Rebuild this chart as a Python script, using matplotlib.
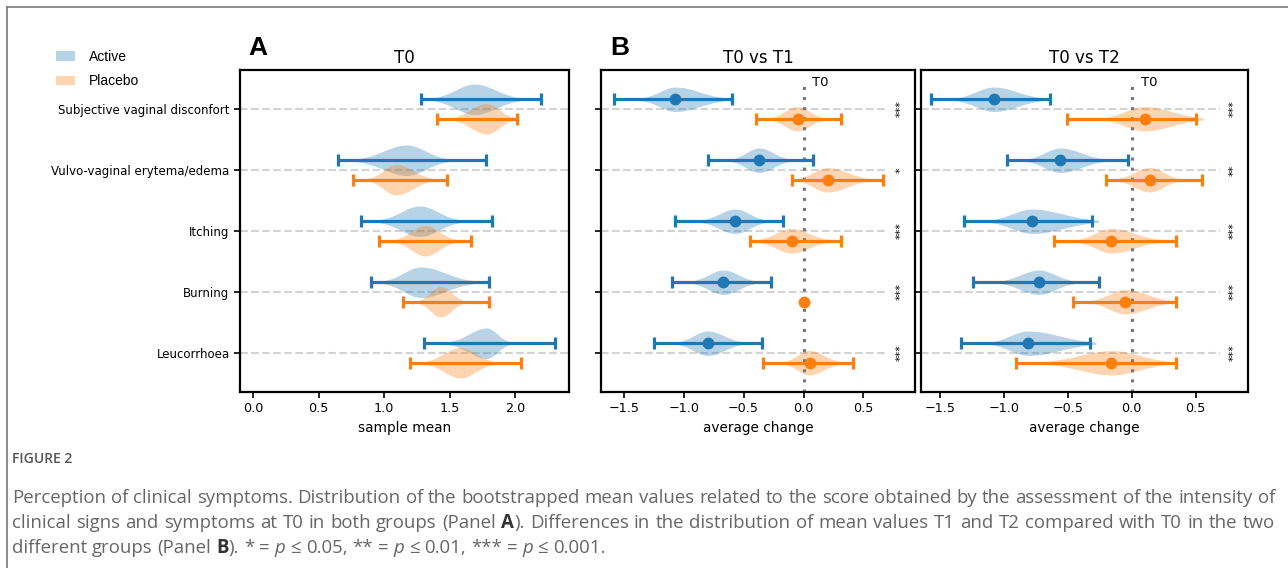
import re
import numpy as np
import matplotlib
matplotlib.use("Agg")
import matplotlib.pyplot as plt
import matplotlib.transforms as mtransforms
from matplotlib.patches import Patch
from matplotlib.lines import Line2D

categories = ["Subjective vaginal disconfort", "Vulvo-vaginal erytema/edema", "Itching", "Burning", "Leucorrhoea"]

# Panel A - T0 sample mean (interval ends and violin shape: peak, visible extent)
t0ActiveLo = [1.28, 0.65, 0.82, 0.90, 1.30]
t0ActiveHi = [2.20, 1.78, 1.82, 1.80, 2.30]
t0PlaceboLo = [1.40, 0.76, 0.96, 1.14, 1.20]
t0PlaceboHi = [2.01, 1.48, 1.66, 1.80, 2.04]
t0ActivePeak = [1.69, 1.17, 1.27, 1.28, 1.78]
t0ActiveVlo = [1.37, 0.79, 0.96, 0.99, 1.49]
t0ActiveVhi = [2.04, 1.49, 1.58, 1.69, 1.96]
t0PlaceboPeak = [1.78, 1.09, 1.31, 1.43, 1.58]
t0PlaceboVlo = [1.52, 0.88, 1.08, 1.26, 1.31]
t0PlaceboVhi = [1.99, 1.37, 1.55, 1.61, 1.84]

# Panel B - T0 vs T1 average change
t1ActiveMean = [-1.07, -0.37, -0.57, -0.67, -0.80]
t1ActiveLo = [-1.58, -0.80, -1.07, -1.10, -1.25]
t1ActiveHi = [-0.60, 0.08, -0.17, -0.27, -0.35]
t1PlaceboMean = [-0.05, 0.20, -0.10, 0.00, 0.05]
t1PlaceboLo = [-0.40, -0.10, -0.45, 0.00, -0.34]
t1PlaceboHi = [0.31, 0.66, 0.31, 0.00, 0.41]
t1ActiveVlo = [-1.36, -0.61, -0.86, -0.94, -1.06]
t1ActiveVhi = [-0.63, -0.11, -0.31, -0.39, -0.50]
t1PlaceboVlo = [-0.28, -0.06, -0.39, 0.00, -0.17]
t1PlaceboVhi = [0.17, 0.56, 0.22, 0.00, 0.31]
t1Sig = ["***", "*", "***", "***", "***"]

# Panel B - T0 vs T2 average change
t2ActiveMean = [-1.08, -0.56, -0.78, -0.73, -0.81]
t2ActiveLo = [-1.57, -0.98, -1.31, -1.24, -1.34]
t2ActiveHi = [-0.64, -0.03, -0.31, -0.26, -0.33]
t2PlaceboMean = [0.10, 0.14, -0.16, -0.05, -0.16]
t2PlaceboLo = [-0.51, -0.20, -0.61, -0.46, -0.91]
t2PlaceboHi = [0.50, 0.55, 0.35, 0.35, 0.35]
t2ActiveVlo = [-1.39, -0.83, -1.12, -1.04, -1.12]
t2ActiveVhi = [-0.68, -0.20, -0.26, -0.44, -0.28]
t2PlaceboVlo = [-0.23, -0.12, -0.44, -0.33, -0.70]
t2PlaceboVhi = [0.56, 0.38, 0.24, 0.32, 0.32]
t2Sig = ["***", "**", "***", "***", "***"]

blue = "#1f77b4"
orange = "#ff7f0e"
plt.rcParams["font.family"] = "DejaVu Sans"

W, H = 1288, 568
fig = plt.figure(figsize=(W / 100, H / 100), dpi=100)


def rect(l, t, r, b):
    return [l / W, 1 - b / H, (r - l) / W, (b - t) / H]


axA = fig.add_axes(rect(240, 70, 569, 392))
axB1 = fig.add_axes(rect(601, 70, 915, 392))
axB2 = fig.add_axes(rect(921, 70, 1248, 392))

ypos = np.arange(len(categories))
off = 0.16


def violin(ax, y, peak, lo, hi, color, half):
    if hi <= lo:
        return
    xs = np.linspace(lo, hi, 200)
    s = np.where(xs < peak, (peak - lo) / 2.2, (hi - peak) / 2.2)
    w = half * np.exp(-0.5 * ((xs - peak) / s) ** 2)
    ax.fill_between(xs, y - w, y + w, color=color, alpha=0.32, lw=0, zorder=1)


def interval(ax, y, lo, hi, color, mean=None):
    if hi > lo:
        c = (lo + hi) / 2
        ax.errorbar(c, y, xerr=[[c - lo], [hi - c]], fmt="none", ecolor=color,
                    elinewidth=2.3, capsize=4.5, capthick=2.3, zorder=3)
    if mean is not None:
        ax.plot(mean, y, "o", color=color, markersize=7.5, zorder=4)


def style_axis(ax, xlim, xlabel):
    ax.set_xlim(xlim)
    ax.set_ylim(4.64, -0.64)
    ax.set_yticks(ypos)
    for s in ax.spines.values():
        s.set_linewidth(1.6)
    ax.tick_params(axis="x", labelsize=9.2, width=1.2, length=4)
    ax.tick_params(axis="y", width=1.2, length=4)
    ax.set_xlabel(xlabel, fontsize=9.8, labelpad=4)


# Panel A
for i in ypos:
    axA.axhline(i, color="#d3d3d3", lw=1.5, ls="--", zorder=0)
    violin(axA, i - off, t0ActivePeak[i], t0ActiveVlo[i], t0ActiveVhi[i], blue, 0.25)
    violin(axA, i + off, t0PlaceboPeak[i], t0PlaceboVlo[i], t0PlaceboVhi[i], orange, 0.25)
    interval(axA, i - off, t0ActiveLo[i], t0ActiveHi[i], blue)
    interval(axA, i + off, t0PlaceboLo[i], t0PlaceboHi[i], orange)
style_axis(axA, (-0.1, 2.41), "sample mean")
axA.set_yticklabels(categories, fontsize=8.5)
axA.set_xticks([0.0, 0.5, 1.0, 1.5, 2.0])
axA.set_title("T0", fontsize=12, pad=5)

# Panel B
panels = [
    (axB1, "T0 vs T1", (-1.69, 0.93), t1ActiveMean, t1ActiveLo, t1ActiveHi, t1PlaceboMean, t1PlaceboLo,
     t1PlaceboHi, t1ActiveVlo, t1ActiveVhi, t1PlaceboVlo, t1PlaceboVhi, t1Sig),
    (axB2, "T0 vs T2", (-1.65, 0.91), t2ActiveMean, t2ActiveLo, t2ActiveHi, t2PlaceboMean, t2PlaceboLo,
     t2PlaceboHi, t2ActiveVlo, t2ActiveVhi, t2PlaceboVlo, t2PlaceboVhi, t2Sig),
]
for (ax, title, xlim, aM, aL, aH, pM, pL, pH, aVl, aVh, pVl, pVh, sig) in panels:
    trans = mtransforms.blended_transform_factory(ax.transAxes, ax.transData)
    for i in ypos:
        ax.axhline(i, xmax=0.915, color="#d3d3d3", lw=1.5, ls="--", zorder=0)
        violin(ax, i - off, aM[i], aVl[i], aVh[i], blue, 0.2)
        violin(ax, i + off, pM[i], pVl[i], pVh[i], orange, 0.2)
        interval(ax, i - off, aL[i], aH[i], blue, aM[i])
        interval(ax, i + off, pL[i], pH[i], orange, pM[i])
        ax.text(0.955, i, sig[i], transform=trans, rotation=90, ha="center", va="center", fontsize=8)
    ax.axvline(0, ymax=0.955, color="#777777", lw=2.2, ls=(0, (1, 2.3)), zorder=2)
    ax.text(0.07, -0.43, "T0", fontsize=9.5, ha="left", va="center")
    style_axis(ax, xlim, "average change")
    ax.set_yticklabels([])
    ax.set_xticks([-1.5, -1.0, -0.5, 0.0, 0.5])
    ax.set_title(title, fontsize=12, pad=5)

# panel letters and legend
fig.text(248 / W, 1 - 48 / H, "A", fontsize=19, fontweight="bold", family="Liberation Sans", va="center")
fig.text(610 / W, 1 - 48 / H, "B", fontsize=19, fontweight="bold", family="Liberation Sans", va="center")
handles = [Patch(facecolor=blue, alpha=0.32, lw=0), Patch(facecolor=orange, alpha=0.32, lw=0)]
fig.legend(handles, ["Active", "Placebo"], loc="upper left", bbox_to_anchor=(56 / W, 1 - 50 / H),
           frameon=False, prop={"family": "Liberation Sans", "size": 10}, handlelength=1.4,
           handleheight=0.65, handletextpad=1.0, labelspacing=0.75, borderpad=0, borderaxespad=0)

# outer frame
fig.add_artist(Line2D([7 / W, 1], [1 - 7 / H, 1 - 7 / H], color="#6e6e6e", lw=1.1, transform=fig.transFigure))
fig.add_artist(Line2D([7 / W, 7 / W], [0, 1 - 7 / H], color="#6e6e6e", lw=1.1, transform=fig.transFigure))

# caption
capColor = "#666666"
capFamily = ["Open Sans", "DejaVu Sans"]
capSize = 13.4
fig.text(12 / W, 1 - 459 / H, "FIGURE 2", fontsize=10, color="#555555", family=capFamily,
         fontweight="semibold", va="center")

captionLines = [
    "Perception of clinical symptoms. Distribution of the bootstrapped mean values related to the score obtained by the assessment of the intensity of",
    "clinical signs and symptoms at T0 in both groups (Panel {b:A}). Differences in the distribution of mean values T1 and T2 compared with T0 in the two",
    "different groups (Panel {b:B}). * = {i:p} \u2264 0.05, ** = {i:p} \u2264 0.01, *** = {i:p} \u2264 0.001.",
]
renderer = fig.canvas.get_renderer()


def width_of(t):
    return t.get_window_extent(renderer).width


tmp1 = fig.text(0, 0, "a a", fontsize=capSize, family=capFamily)
tmp2 = fig.text(0, 0, "aa", fontsize=capSize, family=capFamily)
spaceW = width_of(tmp1) - width_of(tmp2)
tmp1.remove()
tmp2.remove()


def caption_line(text, yPx, justify):
    words = []
    for w in text.split(" "):
        arts = []
        for s in re.split(r"(\{[bi]:[^}]*\})", w):
            if not s:
                continue
            kw = {}
            m = re.match(r"\{([bi]):([^}]*)\}", s)
            if m:
                s = m.group(2)
                kw = {"fontweight": "bold", "color": "#333333"} if m.group(1) == "b" else {"fontstyle": "italic"}
            kw.setdefault("color", capColor)
            arts.append(fig.text(0, 1 - yPx / H, s, fontsize=capSize, family=capFamily, va="center", **kw))
        words.append(arts)
    wordW = [sum(width_of(a) for a in arts) for arts in words]
    x0, x1 = 12, 1275
    gap = (x1 - x0 - sum(wordW)) / (len(words) - 1) if justify else spaceW
    x = x0
    for arts in words:
        for a in arts:
            a.set_x(x / W)
            x += width_of(a)
        x += gap


caption_line(captionLines[0], 498, True)
caption_line(captionLines[1], 523, True)
caption_line(captionLines[2], 548, False)

fig.savefig("out.png", dpi=100)
